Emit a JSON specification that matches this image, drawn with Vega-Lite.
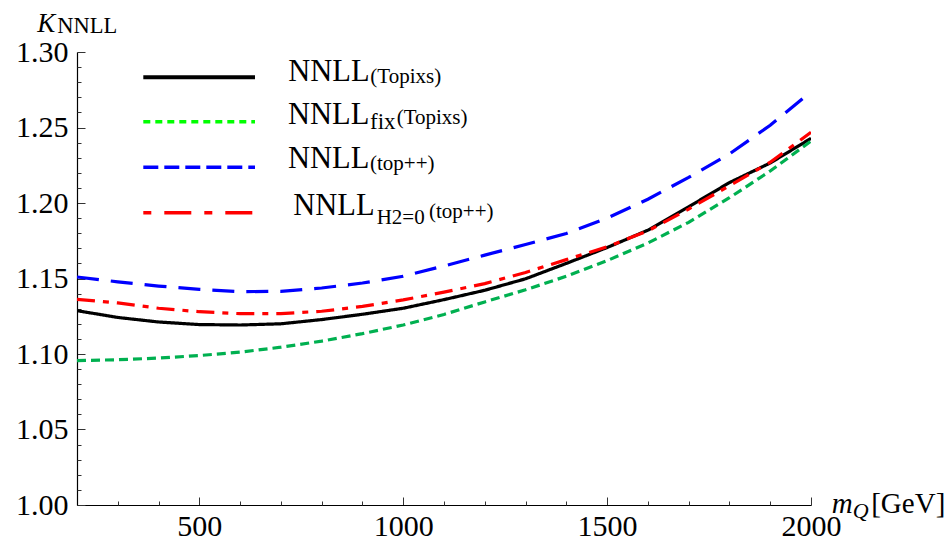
{
  "$schema": "https://vega.github.io/schema/vega-lite/v6.json",
  "width": 734,
  "height": 453,
  "autosize": {"type": "none"},
  "padding": {"left": 77, "top": 52, "right": 141, "bottom": 43},
  "background": "white",
  "config": {
    "view": {"stroke": null},
    "font": "Liberation Serif",
    "axis": {
      "labelFont": "Liberation Serif",
      "labelFontSize": 30,
      "labelColor": "black",
      "labelFlush": false,
      "labelOverlap": false,
      "labelBound": false,
      "grid": false,
      "domainColor": "black",
      "domainWidth": 1.2,
      "tickColor": "#333",
      "tickWidth": 1,
      "title": null
    }
  },
  "datasets": {
    "one": [{}],
    "curves": [
      {"s": "NNLL (Topixs)", "m": 200, "k": 1.1287}, {"s": "NNLL (Topixs)", "m": 300, "k": 1.1242}, {"s": "NNLL (Topixs)", "m": 400, "k": 1.1212}, {"s": "NNLL (Topixs)", "m": 500, "k": 1.1195}, {"s": "NNLL (Topixs)", "m": 600, "k": 1.1192}, {"s": "NNLL (Topixs)", "m": 700, "k": 1.1200}, {"s": "NNLL (Topixs)", "m": 800, "k": 1.1228}, {"s": "NNLL (Topixs)", "m": 900, "k": 1.1263}, {"s": "NNLL (Topixs)", "m": 1000, "k": 1.1303}, {"s": "NNLL (Topixs)", "m": 1100, "k": 1.1360}, {"s": "NNLL (Topixs)", "m": 1200, "k": 1.1422}, {"s": "NNLL (Topixs)", "m": 1300, "k": 1.1498}, {"s": "NNLL (Topixs)", "m": 1400, "k": 1.1600}, {"s": "NNLL (Topixs)", "m": 1500, "k": 1.1705}, {"s": "NNLL (Topixs)", "m": 1600, "k": 1.1820}, {"s": "NNLL (Topixs)", "m": 1700, "k": 1.1975}, {"s": "NNLL (Topixs)", "m": 1800, "k": 1.2135}, {"s": "NNLL (Topixs)", "m": 1900, "k": 1.2265}, {"s": "NNLL (Topixs)", "m": 2000, "k": 1.2428},
      {"s": "NNLL fix (Topixs)", "m": 200, "k": 1.0956}, {"s": "NNLL fix (Topixs)", "m": 300, "k": 1.0962}, {"s": "NNLL fix (Topixs)", "m": 400, "k": 1.0973}, {"s": "NNLL fix (Topixs)", "m": 500, "k": 1.0990}, {"s": "NNLL fix (Topixs)", "m": 600, "k": 1.1012}, {"s": "NNLL fix (Topixs)", "m": 700, "k": 1.1045}, {"s": "NNLL fix (Topixs)", "m": 800, "k": 1.1085}, {"s": "NNLL fix (Topixs)", "m": 900, "k": 1.1135}, {"s": "NNLL fix (Topixs)", "m": 1000, "k": 1.1192}, {"s": "NNLL fix (Topixs)", "m": 1100, "k": 1.1262}, {"s": "NNLL fix (Topixs)", "m": 1200, "k": 1.1345}, {"s": "NNLL fix (Topixs)", "m": 1300, "k": 1.1425}, {"s": "NNLL fix (Topixs)", "m": 1400, "k": 1.1515}, {"s": "NNLL fix (Topixs)", "m": 1500, "k": 1.1618}, {"s": "NNLL fix (Topixs)", "m": 1600, "k": 1.1735}, {"s": "NNLL fix (Topixs)", "m": 1700, "k": 1.1872}, {"s": "NNLL fix (Topixs)", "m": 1800, "k": 1.2035}, {"s": "NNLL fix (Topixs)", "m": 1900, "k": 1.2212}, {"s": "NNLL fix (Topixs)", "m": 2000, "k": 1.2410},
      {"s": "NNLL (top++)", "m": 200, "k": 1.1510}, {"s": "NNLL (top++)", "m": 300, "k": 1.1478}, {"s": "NNLL (top++)", "m": 400, "k": 1.1450}, {"s": "NNLL (top++)", "m": 500, "k": 1.1428}, {"s": "NNLL (top++)", "m": 600, "k": 1.1413}, {"s": "NNLL (top++)", "m": 700, "k": 1.1415}, {"s": "NNLL (top++)", "m": 800, "k": 1.1437}, {"s": "NNLL (top++)", "m": 900, "k": 1.1470}, {"s": "NNLL (top++)", "m": 1000, "k": 1.1515}, {"s": "NNLL (top++)", "m": 1100, "k": 1.1583}, {"s": "NNLL (top++)", "m": 1200, "k": 1.1655}, {"s": "NNLL (top++)", "m": 1300, "k": 1.1725}, {"s": "NNLL (top++)", "m": 1400, "k": 1.1798}, {"s": "NNLL (top++)", "m": 1500, "k": 1.1900}, {"s": "NNLL (top++)", "m": 1600, "k": 1.2025}, {"s": "NNLL (top++)", "m": 1700, "k": 1.2170}, {"s": "NNLL (top++)", "m": 1800, "k": 1.2325}, {"s": "NNLL (top++)", "m": 1900, "k": 1.2515}, {"s": "NNLL (top++)", "m": 2000, "k": 1.2737},
      {"s": "NNLL H2=0 (top++)", "m": 200, "k": 1.1362}, {"s": "NNLL H2=0 (top++)", "m": 300, "k": 1.1338}, {"s": "NNLL H2=0 (top++)", "m": 400, "k": 1.1303}, {"s": "NNLL H2=0 (top++)", "m": 500, "k": 1.1280}, {"s": "NNLL H2=0 (top++)", "m": 600, "k": 1.1267}, {"s": "NNLL H2=0 (top++)", "m": 700, "k": 1.1268}, {"s": "NNLL H2=0 (top++)", "m": 800, "k": 1.1283}, {"s": "NNLL H2=0 (top++)", "m": 900, "k": 1.1315}, {"s": "NNLL H2=0 (top++)", "m": 1000, "k": 1.1358}, {"s": "NNLL H2=0 (top++)", "m": 1100, "k": 1.1410}, {"s": "NNLL H2=0 (top++)", "m": 1200, "k": 1.1466}, {"s": "NNLL H2=0 (top++)", "m": 1300, "k": 1.1540}, {"s": "NNLL H2=0 (top++)", "m": 1400, "k": 1.1625}, {"s": "NNLL H2=0 (top++)", "m": 1500, "k": 1.1710}, {"s": "NNLL H2=0 (top++)", "m": 1600, "k": 1.1815}, {"s": "NNLL H2=0 (top++)", "m": 1700, "k": 1.1960}, {"s": "NNLL H2=0 (top++)", "m": 1800, "k": 1.2115}, {"s": "NNLL H2=0 (top++)", "m": 1900, "k": 1.2270}, {"s": "NNLL H2=0 (top++)", "m": 2000, "k": 1.2468}
    ]
  },
  "resolve": {"axis": {"x": "independent", "y": "independent"}},
  "layer": [
    {
      "data": {"name": "curves"},
      "mark": {"type": "line", "strokeWidth": 3.2, "clip": true},
      "encoding": {
        "x": {"field": "m", "type": "quantitative",
              "scale": {"domain": [200, 2000], "nice": false, "zero": false},
              "axis": {"orient": "bottom", "values": [500, 1000, 1500, 2000], "format": "d", "tickSize": -8, "labelPadding": 14, "domain": true}},
        "y": {"field": "k", "type": "quantitative",
              "scale": {"domain": [1.0, 1.3], "nice": false, "zero": false},
              "axis": {"orient": "left", "values": [1.0, 1.05, 1.1, 1.15, 1.2, 1.25, 1.3], "format": ".2f", "tickSize": -8, "labelPadding": 17, "domain": true}},
        "color": {"field": "s", "type": "nominal", "legend": null,
                  "scale": {"domain": ["NNLL (Topixs)", "NNLL fix (Topixs)", "NNLL (top++)", "NNLL H2=0 (top++)"], "range": ["#000000", "#00b050", "#0000ff", "#ff0000"]}},
        "strokeDash": {"field": "s", "type": "nominal", "legend": null,
                  "scale": {"domain": ["NNLL (Topixs)", "NNLL fix (Topixs)", "NNLL (top++)", "NNLL H2=0 (top++)"], "range": [[1, 0], [9, 5], [22, 12], [18, 8, 6, 8]]}},
        "detail": {"field": "s"}
      }
    },
    {
      "data": {"name": "curves"},
      "mark": {"type": "line", "opacity": 0},
      "encoding": {
        "x": {"field": "m", "type": "quantitative",
              "axis": {"orient": "bottom", "values": [300, 400, 600, 700, 800, 900, 1100, 1200, 1300, 1400, 1600, 1700, 1800, 1900], "labels": false, "domain": false, "tickSize": -4}},
        "y": {"field": "k", "type": "quantitative",
              "axis": {"orient": "left", "values": [1.01, 1.02, 1.03, 1.04, 1.06, 1.07, 1.08, 1.09, 1.11, 1.12, 1.13, 1.14, 1.16, 1.17, 1.18, 1.19, 1.21, 1.22, 1.23, 1.24, 1.26, 1.27, 1.28, 1.29], "labels": false, "domain": false, "tickSize": -4}},
        "detail": {"field": "s"}
      }
    },
    {"data": {"name": "one"}, "mark": {"type": "rule", "color": "black", "strokeWidth": 4},
     "encoding": {"x": {"datum": 362.6, "type": "quantitative", "axis": null}, "x2": {"datum": 636.5}, "y": {"datum": 1.28325, "type": "quantitative", "axis": null}}},
    {"data": {"name": "one"}, "mark": {"type": "rule", "color": "#00ff00", "strokeWidth": 3.5, "strokeDash": [7, 5]},
     "encoding": {"x": {"datum": 362.6, "type": "quantitative", "axis": null}, "x2": {"datum": 636.5}, "y": {"datum": 1.25384, "type": "quantitative", "axis": null}}},
    {"data": {"name": "one"}, "mark": {"type": "rule", "color": "#0000ff", "strokeWidth": 3.5, "strokeDash": [15, 6]},
     "encoding": {"x": {"datum": 362.6, "type": "quantitative", "axis": null}, "x2": {"datum": 636.5}, "y": {"datum": 1.22364, "type": "quantitative", "axis": null}}},
    {"data": {"name": "one"}, "mark": {"type": "rule", "color": "#ff0000", "strokeWidth": 3.5, "strokeDash": [8, 13, 27, 13]},
     "encoding": {"x": {"datum": 362.6, "type": "quantitative", "axis": null}, "x2": {"datum": 636.5}, "y": {"datum": 1.19358, "type": "quantitative", "axis": null}}},
    {"data": {"name": "one"}, "mark": {"type": "text", "text": "NNLL", "font": "Liberation Serif", "fontSize": 30.5, "align": "left", "baseline": "alphabetic"},
     "encoding": {"x": {"datum": 718.2, "type": "quantitative", "axis": null}, "y": {"datum": 1.2810, "type": "quantitative", "axis": null}}},
    {"data": {"name": "one"}, "mark": {"type": "text", "text": "(Topixs)", "font": "Liberation Serif", "fontSize": 21, "align": "left", "baseline": "alphabetic", "dx": 82, "dy": 2},
     "encoding": {"x": {"datum": 718.2, "type": "quantitative", "axis": null}, "y": {"datum": 1.2810, "type": "quantitative", "axis": null}}},
    {"data": {"name": "one"}, "mark": {"type": "text", "text": "NNLL", "font": "Liberation Serif", "fontSize": 30.5, "align": "left", "baseline": "alphabetic"},
     "encoding": {"x": {"datum": 717.4, "type": "quantitative", "axis": null}, "y": {"datum": 1.25232, "type": "quantitative", "axis": null}}},
    {"data": {"name": "one"}, "mark": {"type": "text", "text": "fix", "font": "Liberation Serif", "fontSize": 23, "align": "left", "baseline": "alphabetic", "dx": 82, "dy": 5},
     "encoding": {"x": {"datum": 717.4, "type": "quantitative", "axis": null}, "y": {"datum": 1.25232, "type": "quantitative", "axis": null}}},
    {"data": {"name": "one"}, "mark": {"type": "text", "text": "(Topixs)", "font": "Liberation Serif", "fontSize": 21, "align": "left", "baseline": "alphabetic", "dx": 108.7, "dy": 0},
     "encoding": {"x": {"datum": 717.4, "type": "quantitative", "axis": null}, "y": {"datum": 1.25232, "type": "quantitative", "axis": null}}},
    {"data": {"name": "one"}, "mark": {"type": "text", "text": "NNLL", "font": "Liberation Serif", "fontSize": 30.5, "align": "left", "baseline": "alphabetic"},
     "encoding": {"x": {"datum": 717.4, "type": "quantitative", "axis": null}, "y": {"datum": 1.22298, "type": "quantitative", "axis": null}}},
    {"data": {"name": "one"}, "mark": {"type": "text", "text": "(top++)", "font": "Liberation Serif", "fontSize": 21, "align": "left", "baseline": "alphabetic", "dx": 82, "dy": 2},
     "encoding": {"x": {"datum": 717.4, "type": "quantitative", "axis": null}, "y": {"datum": 1.22298, "type": "quantitative", "axis": null}}},
    {"data": {"name": "one"}, "mark": {"type": "text", "text": "NNLL", "font": "Liberation Serif", "fontSize": 30.5, "align": "left", "baseline": "alphabetic"},
     "encoding": {"x": {"datum": 730.4, "type": "quantitative", "axis": null}, "y": {"datum": 1.19205, "type": "quantitative", "axis": null}}},
    {"data": {"name": "one"}, "mark": {"type": "text", "text": "H2=0", "font": "Liberation Serif", "fontSize": 21, "align": "left", "baseline": "alphabetic", "dx": 83.4, "dy": 9},
     "encoding": {"x": {"datum": 730.4, "type": "quantitative", "axis": null}, "y": {"datum": 1.19205, "type": "quantitative", "axis": null}}},
    {"data": {"name": "one"}, "mark": {"type": "text", "text": "(top++)", "font": "Liberation Serif", "fontSize": 21, "align": "left", "baseline": "alphabetic", "dx": 135.7, "dy": 2.5},
     "encoding": {"x": {"datum": 730.4, "type": "quantitative", "axis": null}, "y": {"datum": 1.19205, "type": "quantitative", "axis": null}}},
    {"data": {"name": "one"}, "mark": {"type": "text", "text": "K", "font": "Liberation Serif", "fontStyle": "italic", "fontSize": 27, "align": "left", "baseline": "alphabetic"},
     "encoding": {"x": {"datum": 102.6, "type": "quantitative", "axis": null}, "y": {"datum": 1.31344, "type": "quantitative", "axis": null}}},
    {"data": {"name": "one"}, "mark": {"type": "text", "text": "NNLL", "font": "Liberation Serif", "fontSize": 22.5, "align": "left", "baseline": "alphabetic", "dx": 20, "dy": 1.6},
     "encoding": {"x": {"datum": 102.6, "type": "quantitative", "axis": null}, "y": {"datum": 1.31344, "type": "quantitative", "axis": null}}},
    {"data": {"name": "one"}, "mark": {"type": "text", "text": "m", "font": "Liberation Serif", "fontStyle": "italic", "fontSize": 29, "align": "left", "baseline": "alphabetic"},
     "encoding": {"x": {"datum": 2050.8, "type": "quantitative", "axis": null}, "y": {"datum": 0.9947, "type": "quantitative", "axis": null}}},
    {"data": {"name": "one"}, "mark": {"type": "text", "text": "Q", "font": "Liberation Serif", "fontStyle": "italic", "fontSize": 22, "align": "left", "baseline": "alphabetic", "dx": 21, "dy": 5},
     "encoding": {"x": {"datum": 2050.8, "type": "quantitative", "axis": null}, "y": {"datum": 0.9947, "type": "quantitative", "axis": null}}},
    {"data": {"name": "one"}, "mark": {"type": "text", "text": "[GeV]", "font": "Liberation Serif", "fontSize": 29, "align": "left", "baseline": "alphabetic", "dx": 39.5},
     "encoding": {"x": {"datum": 2050.8, "type": "quantitative", "axis": null}, "y": {"datum": 0.9947, "type": "quantitative", "axis": null}}}
  ]
}
